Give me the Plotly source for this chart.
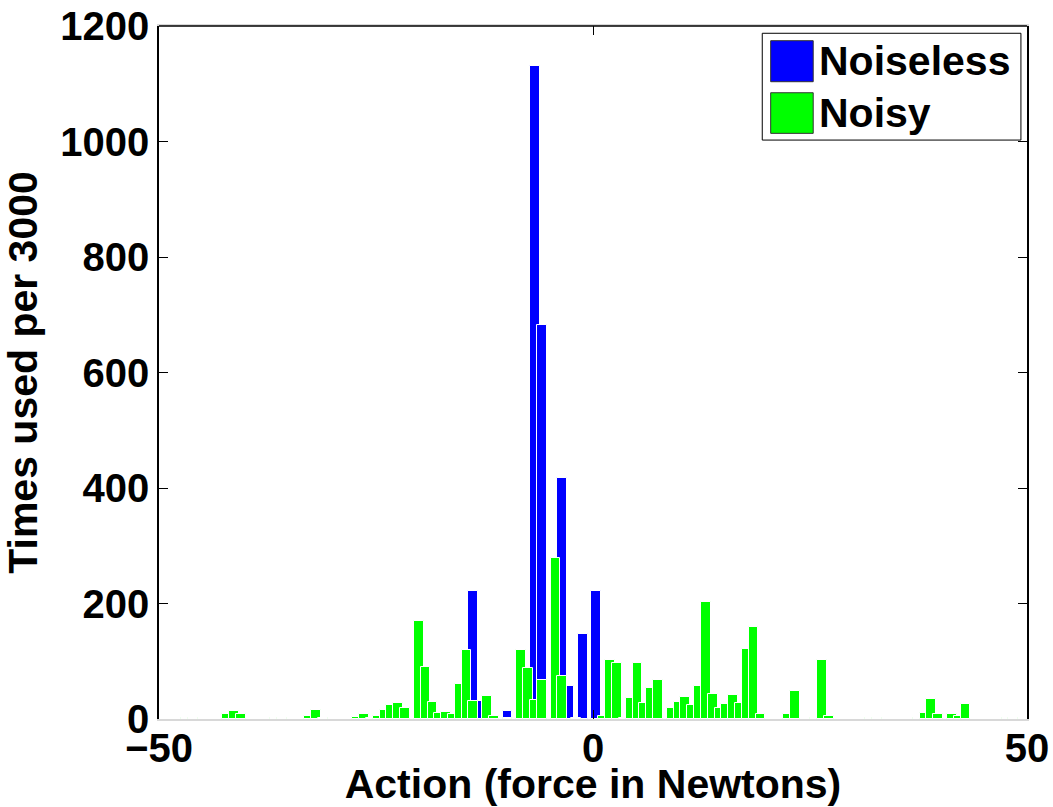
import plotly.graph_objects as go

# Bin centres (force in Newtons) and counts per 3000 steps
noiseless_x = [-13.78, -12.99, -9.84, -6.69, -5.91, -3.54, -2.76, -1.18, 0.39]
noiseless_y = [221, 31, 13, 1131, 682, 417, 57, 148, 221]

noisy_x = [-46.85, -46.06, -42.13, -41.34, -40.55, -36.61, -35.83, -32.68, -31.89, -31.10,
           -27.17, -26.38, -25.59, -24.80, -24.02, -23.23, -22.44, -21.65, -20.08, -19.29,
           -18.50, -17.72, -16.93, -16.14, -15.35, -14.57, -13.78, -12.20, -11.42, -9.84,
           -8.27, -7.48, -6.69, -5.91, -4.33, -3.54, -1.97, 1.18, 1.97, 2.76,
           3.54, 4.33, 5.12, 5.91, 6.69, 7.48, 9.06, 9.84, 10.63, 11.42,
           12.20, 12.99, 13.78, 14.57, 15.35, 16.14, 16.93, 17.72, 18.50, 19.29,
           22.44, 23.23, 25.59, 26.38, 27.17, 31.89, 32.68, 37.40, 38.19, 38.98,
           39.76, 41.34, 42.13, 42.91, 47.64, 48.43]
noisy_y = [1, 1, 9, 13, 8, 1, 1, 5, 16, 1,
           3, 9, 2, 5, 15, 24, 27, 19, 170, 90,
           29, 11, 12, 9, 60, 119, 31, 40, 5, 1,
           120, 89, 33, 67, 279, 74, 1, 5, 103, 97,
           2, 37, 97, 27, 53, 67, 19, 29, 38, 25,
           58, 202, 44, 19, 26, 41, 27, 122, 160, 8,
           8, 49, 1, 103, 5, 1, 1, 2, 10, 35,
           8, 8, 6, 26, 1, 1]

x_ticks = [-50, 0, 50]
y_ticks = [0, 200, 400, 600, 800, 1000, 1200]
series_names = ["Noiseless", "Noisy"]
series_colors = ["#0000ff", "#00ff00"]

FONT = "Liberation Sans, Arial, Helvetica, sans-serif"
BAR_W = 1.13

fig = go.Figure()
fig.add_trace(go.Bar(x=noiseless_x, y=noiseless_y, width=BAR_W, name=series_names[0],
                     marker=dict(color=series_colors[0], line=dict(color="white", width=1)),
                     showlegend=False))
fig.add_trace(go.Bar(x=noisy_x, y=noisy_y, width=BAR_W, name=series_names[1],
                     marker=dict(color=series_colors[1], line=dict(color="white", width=1)),
                     showlegend=False))

# Manual legend (large swatches as in the original)
legend_box = dict(x0=0.695, x1=0.993, y0=0.8354, y1=0.9895)
fig.add_shape(type="rect", xref="paper", yref="paper", **legend_box,
              line=dict(color="black", width=1), fillcolor="white", layer="above")
sw_y = [(0.9196, 0.9788), (0.8451, 0.9037)]
txt_y = [0.9495, 0.8744]
for i in range(2):
    fig.add_shape(type="rect", xref="paper", yref="paper", x0=0.7047, x1=0.7537,
                  y0=sw_y[i][0], y1=sw_y[i][1], fillcolor=series_colors[i],
                  line=dict(color="#333333", width=1), layer="above")
    fig.add_annotation(xref="paper", yref="paper", x=0.7575, y=txt_y[i], text=series_names[i],
                       showarrow=False, xanchor="left", yanchor="middle",
                       font=dict(family=FONT, size=41, color="black", weight="bold"))

# top border line (bottom axis line is faint in the original)
fig.add_shape(type="line", xref="paper", yref="paper", x0=0, x1=1, y0=1, y1=1,
              line=dict(color="black", width=1.5), layer="above")

fig.update_layout(
    width=1053, height=807,
    margin=dict(l=159, r=26, t=26, b=88),
    plot_bgcolor="white", paper_bgcolor="white",
    barmode="overlay", bargap=0,
    font=dict(family=FONT, color="black", weight="bold"),
    xaxis=dict(range=[-50, 50], tickvals=x_ticks, ticks="inside", ticklen=9,
               tickcolor="black", showline=True, linecolor="#d8d8d8", linewidth=1.5,
               mirror="ticks", showgrid=False, zeroline=False, automargin=False,
               ticklabelstandoff=-7,
               tickfont=dict(family=FONT, size=40, weight="bold"),
               title=dict(text="Action (force in Newtons)", standoff=6,
                          font=dict(family=FONT, size=41, weight="bold"))),
    yaxis=dict(range=[0, 1200], tickvals=y_ticks, ticks="inside", ticklen=9,
               tickcolor="black", showline=True, linecolor="black", linewidth=1.5,
               mirror="ticks", showgrid=False, zeroline=False, automargin=False,
               tickfont=dict(family=FONT, size=40, weight="bold"),
               title=dict(text="Times used per 3000", standoff=12,
                          font=dict(family=FONT, size=41, weight="bold"))),
)

fig.write_html("out.html")
